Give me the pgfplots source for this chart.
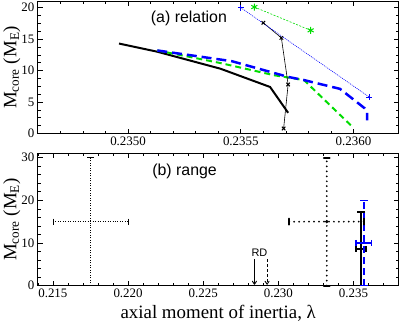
\documentclass[border=0pt]{standalone}
\usepackage{fontspec}
\setmainfont{Liberation Serif}
\newfontfamily\hv{Liberation Sans}
\usepackage{pgfplots}
\pgfplotsset{compat=1.18}
\usetikzlibrary{arrows.meta}
\definecolor{xgreen}{RGB}{0,220,0}
\definecolor{xblue}{RGB}{0,0,255}

\pgfplotsset{
  panel/.style={
    scale only axis, width=363pt, height=133pt,
    tick align=inside,
    major tick length=5pt, minor tick length=3pt,
    axis line style={line width=0.8pt},
    every tick/.style={black, line width=0.7pt},
    tick label style={font=\fontsize{13}{15}\selectfont},
    label style={font=\fontsize{19}{22}\selectfont},
    /pgf/number format/assume math mode=true,
    scaled ticks=false,
    ylabel={M\textsubscript{core} (M\textsubscript{E})},
    ylabel style={at={(axis description cs:-0.072,0.5)}, anchor=center},
  },
  % a vertical or horizontal bar with end caps
  vbar/.style={mark=-, mark size=#1, mark options={solid}},
  hbar/.style={mark=|, mark size=#1, mark options={solid}},
}

\begin{document}
\begin{tikzpicture}
% (a) relation
\begin{axis}[panel, at={(0,0)},
    xmin=0.2346, xmax=0.2362, ymin=0, ymax=21,
    xtick distance=0.0005, minor x tick num=4,
    ytick={0,5,10,15,20}, minor y tick num=3,
    x tick label style={/pgf/number format/fixed, /pgf/number format/fixed zerofill, /pgf/number format/precision=4}]
\addplot[black, line width=2pt, mark=none] coordinates {
    (0.23496,14.3) (0.23513,13.0) (0.23541,10.3) (0.23563,7.4) (0.23571,3.3)};
\addplot[xgreen, line width=2pt, dash pattern=on 6pt off 4pt, mark=none] coordinates {
    (0.23513,13.2) (0.23541,11.2) (0.23565,9.25) (0.23578,8.5) (0.23600,0.9)};
\addplot[xblue, line width=2.5pt, dash pattern=on 10pt off 5pt, mark=none] coordinates {
    (0.23513,13.2) (0.23546,11.5) (0.23571,9.0) (0.23578,8.5) (0.23594,7.1)
    (0.23605,4.0) (0.23606,3.4) (0.23606,2.1)};
\addplot[black, line width=0.6pt, mark=x, mark size=2.5pt, mark options={line width=1pt}] coordinates {
    (0.23560,17.6) (0.23568,15.2) (0.23571,7.8) (0.23569,0.8)};
\addplot[xblue, line width=0.6pt, dash pattern=on 1pt off 1pt, mark=+, mark size=3pt, mark options={solid, line width=1pt}] coordinates {
    (0.23550,20.0) (0.23607,5.8)};
\addplot[xgreen, line width=0.6pt, dash pattern=on 2pt off 1.5pt, mark=asterisk, mark size=3.5pt, mark options={solid, line width=1pt}] coordinates {
    (0.23556,20.1) (0.23581,16.4)};
\node[font=\hv\fontsize{16}{18}\selectfont] at (axis cs:0.23527,18.3) {(a) relation};
\end{axis}

% (b) range
\begin{axis}[panel, at={(0,-153pt)},
    xmin=0.214, xmax=0.238, ymin=0, ymax=31,
    xtick distance=0.005, minor x tick num=4,
    ytick={0,10,20,30}, minor y tick num=4,
    x tick label style={/pgf/number format/fixed, /pgf/number format/fixed zerofill, /pgf/number format/precision=3},
    xlabel={axial moment of inertia, λ}]
% thin dotted range
\addplot[black, line width=0.7pt, dash pattern=on 1pt off 1.5pt, vbar=3.5pt] coordinates {(0.2175,0) (0.2175,30)};
\addplot[black, line width=0.7pt, dash pattern=on 1pt off 1.5pt, hbar=3pt] coordinates {(0.215,15) (0.220,15)};
% thick dotted range
\addplot[black, line width=2pt, line cap=round, dash pattern=on 0pt off 5pt, vbar=3pt] coordinates {(0.23322,0) (0.23322,30)};
\addplot[black, line width=2pt, line cap=round, dash pattern=on 0pt off 5pt, hbar=3pt] coordinates {(0.23072,15) (0.23572,15)};
\addplot[black, only marks, mark=*, mark size=1.4pt] coordinates {(0.23322,15)};
% black solid
\addplot[black, line width=1.6pt, vbar=4pt] coordinates {(0.2355,0) (0.2355,17.2)};
\addplot[black, line width=1.6pt, hbar=3pt] coordinates {(0.23517,8.6) (0.23583,8.6)};
% blue dashed
\addplot[xblue, line width=1.6pt, dash pattern=on 7pt off 4pt, vbar=4pt] coordinates {(0.23568,0) (0.23568,20)};
\addplot[xblue, line width=1.6pt, hbar=3pt] coordinates {(0.23516,10) (0.2362,10)};
% RD arrows
\addplot[black, line width=0.9pt, -{To[length=4pt,width=5pt]}] coordinates {(0.22841,6.2) (0.22841,0.2)};
\addplot[black, line width=0.9pt, dash pattern=on 3pt off 2pt, -{To[length=4pt,width=5pt]}] coordinates {(0.22925,6.2) (0.22925,0.2)};
\node[font=\hv\fontsize{11}{12}\selectfont] at (axis cs:0.22874,7.6) {RD};
\node[font=\hv\fontsize{16}{18}\selectfont] at (axis cs:0.22376,26.7) {(b) range};
\end{axis}
\end{tikzpicture}
\end{document}
